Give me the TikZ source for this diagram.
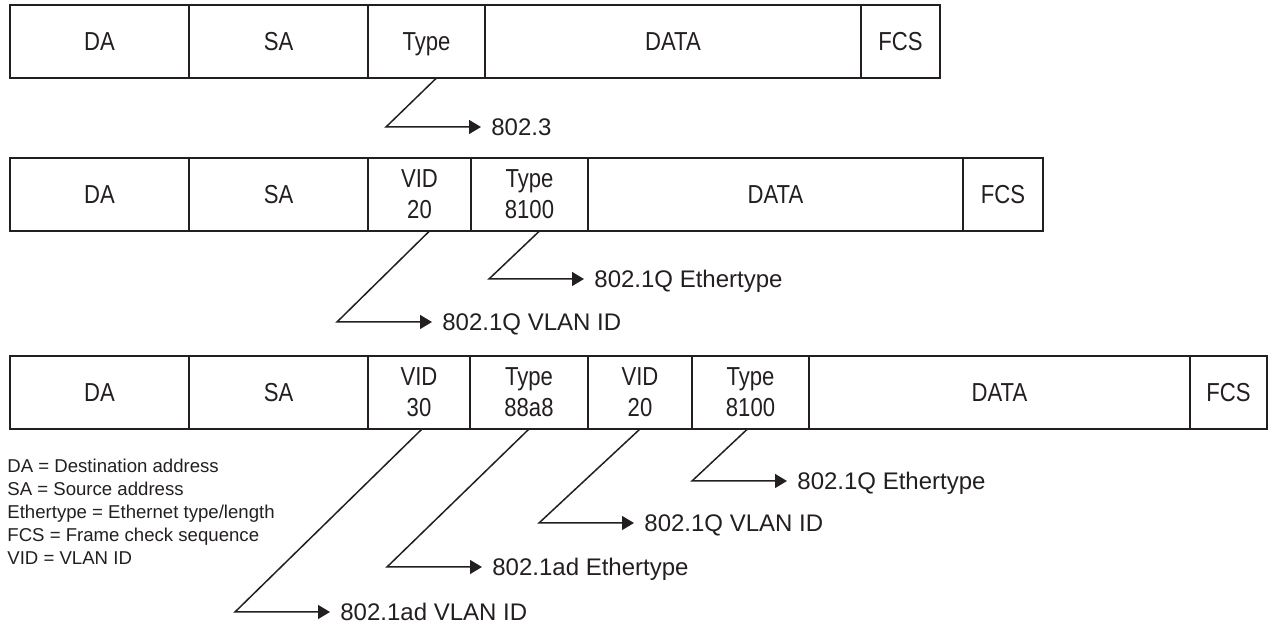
\documentclass[tikz,border=0pt]{standalone}
\usepackage{fontspec}
\setmainfont{Liberation Sans}
\newfontfamily\condfont{Liberation Sans}[FakeStretch=0.85]
\usetikzlibrary{positioning, arrows.meta}
\definecolor{ink}{HTML}{231F20}

\begin{document}
\begin{tikzpicture}[
		x=0.5pt, y=-0.5pt,
		% Define Node Styles
		field/.style={draw=ink, line width=0.7pt, rectangle, minimum height=36.5pt, inner sep=0pt, outer sep=0pt, align=center, text=ink, font=\condfont\fontsize{13}{15.5}\selectfont},
		oneline/.style={text height=9.3pt, text depth=0pt},
		addrbox/.style={field, oneline, minimum width=89.5pt},
		vidbox/.style={field, minimum width=51.5pt},
		typebox/.style={field, minimum width=58.5pt},
		databox/.style={field, oneline, minimum width=188pt},
		fcsbox/.style={field, oneline, minimum width=39.5pt},
		tag/.style={inner sep=0pt, text=ink, font=\fontsize{12}{14}\selectfont, text height=8.6pt, text depth=0pt},
		legend/.style={inner sep=0pt, align=left, text=ink, font=\fontsize{9.3}{11.5}\selectfont},
		% Define Arrow Style
		pointer/.style={draw=ink, line width=0.75pt, -{Triangle[length=6pt, width=7pt]}, shorten >=5pt}
	]
	\useasboundingbox (0,0) rectangle (1269,624);

	% Untagged frame
	\node[addrbox, anchor=north west] (da1) at (10,5) {DA};
	\node[addrbox, right=0pt of da1] (sa1) {SA};
	\node[typebox, oneline, right=0pt of sa1] (ty1) {Type};
	\node[databox, right=0pt of ty1] (dt1) {DATA};
	\node[fcsbox, right=0pt of dt1] (fc1) {FCS};

	% Single tagged frame
	\node[addrbox, anchor=north west] (da2) at (10,158) {DA};
	\node[addrbox, right=0pt of da2] (sa2) {SA};
	\node[vidbox, right=0pt of sa2] (vd2) {VID\\20};
	\node[typebox, right=0pt of vd2] (ty2) {Type\\8100};
	\node[databox, minimum width=187.5pt, right=0pt of ty2] (dt2) {DATA};
	\node[fcsbox, minimum width=40pt, right=0pt of dt2] (fc2) {FCS};

	% Double tagged frame
	\node[addrbox, anchor=north west] (da3) at (10,356) {DA};
	\node[addrbox, right=0pt of da3] (sa3) {SA};
	\node[vidbox, minimum width=51pt, right=0pt of sa3] (vd3) {VID\\30};
	\node[typebox, minimum width=59pt, right=0pt of vd3] (ty3) {Type\\88a8};
	\node[vidbox, minimum width=52pt, right=0pt of ty3] (vd4) {VID\\20};
	\node[typebox, right=0pt of vd4] (ty4) {Type\\8100};
	\node[databox, minimum width=190.5pt, right=0pt of ty4] (dt3) {DATA};
	\node[fcsbox, minimum width=38.5pt, right=0pt of dt3] (fc3) {FCS};

	% Bends and labels
	\coordinate (k1) at (386,127);
	\node[tag, right=52.5pt of k1] (l1) {802.3};
	\coordinate (k2) at (337,322);
	\node[tag, right=52.5pt of k2] (l2) {802.1Q VLAN ID};
	\coordinate (k3) at (489,279);
	\node[tag, right=52.5pt of k3] (l3) {802.1Q Ethertype};
	\coordinate (k4) at (235,612);
	\node[tag, right=52.5pt of k4] (l4) {802.1ad VLAN ID};
	\coordinate (k5) at (387,567);
	\node[tag, right=52.5pt of k5] (l5) {802.1ad Ethertype};
	\coordinate (k6) at (539,523);
	\node[tag, right=52.5pt of k6] (l6) {802.1Q VLAN ID};
	\coordinate (k7) at (692,481);
	\node[tag, right=52.5pt of k7] (l7) {802.1Q Ethertype};

	% Pointers
	\draw[pointer] ([xshift=5pt]ty1.south) -- (k1) -- (l1.west);
	\draw[pointer] ([xshift=5pt]vd2.south) -- (k2) -- (l2.west);
	\draw[pointer] ([xshift=5pt]ty2.south) -- (k3) -- (l3.west);
	\draw[pointer] ([xshift=1.5pt]vd3.south) -- (k4) -- (l4.west);
	\draw[pointer] (ty3.south) -- (k5) -- (l5.west);
	\draw[pointer] (vd4.south) -- (k6) -- (l6.west);
	\draw[pointer] ([xshift=-1.5pt]ty4.south) -- (k7) -- (l7.west);

	% Key
	\node[legend, anchor=north west] (key) at (7,459) {DA = Destination address\\SA = Source address\\Ethertype = Ethernet type/length\\FCS = Frame check sequence\\VID = VLAN ID};
\end{tikzpicture}
\end{document}
